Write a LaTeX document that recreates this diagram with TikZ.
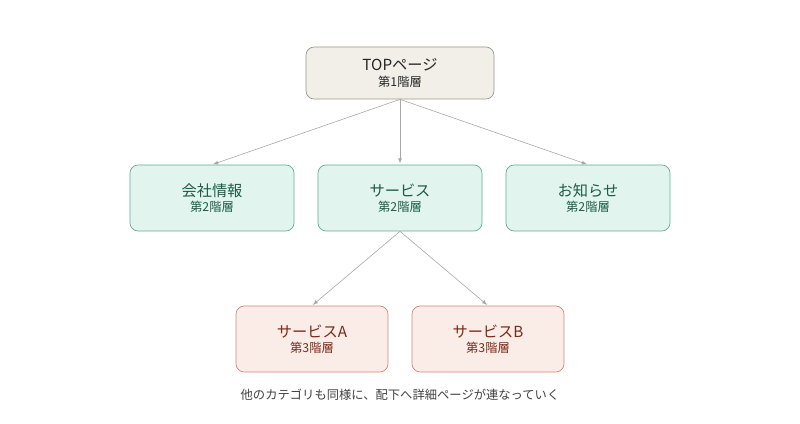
\documentclass[tikz,border=0pt]{standalone}
\usepackage{fontspec}
\setmainfont{Noto Sans CJK JP}
\usetikzlibrary{positioning}
\definecolor{topfill}{HTML}{F1EFE8}
\definecolor{topdraw}{HTML}{9A9890}
\definecolor{midfill}{HTML}{E1F5EE}
\definecolor{middraw}{HTML}{5FAF90}
\definecolor{midtext}{HTML}{1E5A46}
\definecolor{lowfill}{HTML}{FAECE7}
\definecolor{lowdraw}{HTML}{D08A78}
\definecolor{lowtext}{HTML}{7A2A1A}
\tikzset{>=latex}
\tikzset{
  page/.style={rounded corners=7pt, line width=0.6pt, align=center, inner sep=0pt},
  toppage/.style={page, fill=topfill, draw=topdraw, text=black!85,
    minimum width=5.64cm, minimum height=1.56cm},
  midpage/.style={page, fill=midfill, draw=middraw, text=midtext,
    minimum width=4.92cm, minimum height=1.98cm},
  lowpage/.style={page, fill=lowfill, draw=lowdraw, text=lowtext,
    minimum width=4.56cm, minimum height=1.98cm},
  link/.style={->, draw=black!35, line width=0.5pt, shorten >=1pt},
}
\newcommand{\pagelabel}[2]{{\fontsize{13}{16}\selectfont #1}\\[1pt]{\fontsize{10.5}{13}\selectfont #2}}

\begin{document}
\begin{tikzpicture}[x=0.03cm, y=-0.03cm]
  \useasboundingbox (0,0) rectangle (800,424);
  % first level
  \node[toppage] (top) at (400,73) {\pagelabel{TOPページ}{第1階層}};
  % second level
  \node[midpage] (company) at (212,198) {\pagelabel{会社情報}{第2階層}};
  \node[midpage] (service) at (400,198) {\pagelabel{サービス}{第2階層}};
  \node[midpage] (news) at (588,198) {\pagelabel{お知らせ}{第2階層}};
  % third level
  \node[lowpage] (servicea) at (312,339) {\pagelabel{サービスA}{第3階層}};
  \node[lowpage] (serviceb) at (488,339) {\pagelabel{サービスB}{第3階層}};
  % note
  \node[text=black!75, font=\fontsize{10.5}{13}\selectfont] (note) at (400,395)
    {他のカテゴリも同様に、配下へ詳細ページが連なっていく};
  % links
  \draw[link] (top.south) -- (company.north);
  \draw[link] (top.south) -- (service.north);
  \draw[link] (top.south) -- (news.north);
  \draw[link] (service.south) -- (servicea.north);
  \draw[link] (service.south) -- (serviceb.north);
\end{tikzpicture}
\end{document}
